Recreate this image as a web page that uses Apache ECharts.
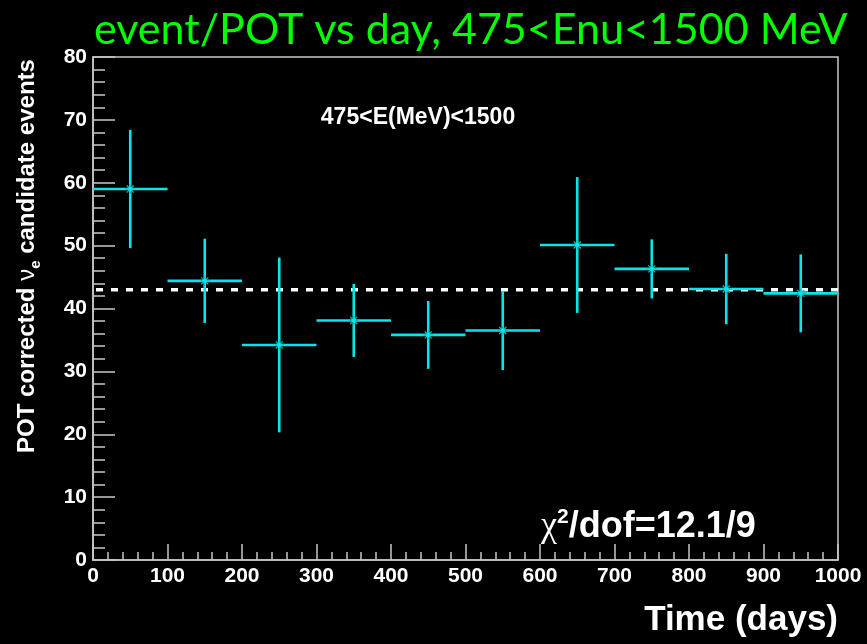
<!DOCTYPE html>
<html>
<head>
<meta charset="utf-8">
<style>
  html, body { margin: 0; padding: 0; background: #000; }
  #chart { width: 867px; height: 644px; }
</style>
<script src="https://cdn.jsdelivr.net/npm/echarts@6/dist/echarts.min.js"></script>
</head>
<body>
<div id="chart"></div>
<script>
// Bin centres (days), bin half-width, POT-corrected candidate rates and their errors
const days = [50, 150, 250, 350, 450, 550, 650, 750, 850, 950];
const binHalfWidth = [50, 50, 50, 50, 50, 50, 50, 50, 50, 50];
const rate = [59.0, 44.4, 34.2, 38.1, 35.8, 36.5, 50.1, 46.3, 43.1, 42.4];
const rateErr = [9.4, 6.7, 13.9, 5.8, 5.4, 6.3, 10.8, 4.7, 5.6, 6.2];
// Flat fit over the full range
const fitLevel = 43.0;
const fitRange = [0, 1000];
// Axis ranges
const xRange = [0, 1000, 100];
const yRange = [0, 80, 10];

const CYAN = '#00e8e8';
const AXIS = '#c8c8c8';
const SANS = 'Liberation Sans, Arial, Helvetica, sans-serif';

const points = days.map((d, i) => [d, rate[i], binHalfWidth[i], rateErr[i]]);

function renderPoint(params, api) {
  const x = api.value(0), y = api.value(1), dx = api.value(2), dy = api.value(3);
  const c = api.coord([x, y]);
  const l = api.coord([x - dx, y]);
  const r = api.coord([x + dx, y]);
  const t = api.coord([x, y + dy]);
  const b = api.coord([x, y - dy]);
  const bar = { stroke: CYAN, lineWidth: 2.6 };
  const star = { stroke: '#00c0c0', lineWidth: 1.2 };
  const s = 5;
  const children = [
    { type: 'line', shape: { x1: l[0], y1: l[1], x2: r[0], y2: r[1] }, style: bar },
    { type: 'line', shape: { x1: t[0], y1: t[1], x2: b[0], y2: b[1] }, style: bar }
  ];
  // asterisk marker
  for (let k = 0; k < 4; k++) {
    const a = k * Math.PI / 4;
    children.push({
      type: 'line',
      shape: { x1: c[0] - s * Math.cos(a), y1: c[1] - s * Math.sin(a), x2: c[0] + s * Math.cos(a), y2: c[1] + s * Math.sin(a) },
      style: star
    });
  }
  children.push({ type: 'circle', shape: { cx: c[0], cy: c[1], r: 2 }, style: { fill: CYAN } });
  return { type: 'group', children };
}

const chart = echarts.init(document.getElementById('chart'), null, { renderer: 'canvas' });

chart.setOption({
  backgroundColor: '#000',
  animation: false,
  grid: {
    left: 93, right: 29, top: 57, bottom: 84,
    show: true, borderColor: AXIS, borderWidth: 1.5, backgroundColor: 'transparent'
  },
  xAxis: {
    type: 'value', min: xRange[0], max: xRange[1], interval: xRange[2],
    axisLine: { show: true, onZero: false, lineStyle: { color: AXIS, width: 1.5 } },
    axisTick: { show: true, inside: true, length: 16, lineStyle: { color: AXIS, width: 1.5 } },
    minorTick: { show: true, splitNumber: 5, length: 8, lineStyle: { color: AXIS, width: 1.5 } },
    splitLine: { show: false },
    axisLabel: { color: '#fff', fontFamily: SANS, fontWeight: 'bold', fontSize: 21, margin: 6,
                 showMinLabel: true, showMaxLabel: true, formatter: v => String(v) }
  },
  yAxis: {
    type: 'value', min: yRange[0], max: yRange[1], interval: yRange[2],
    axisLine: { show: true, onZero: false, lineStyle: { color: AXIS, width: 1.5 } },
    axisTick: { show: true, inside: true, length: 22, lineStyle: { color: AXIS, width: 1.5 } },
    minorTick: { show: true, splitNumber: 5, length: 12, lineStyle: { color: AXIS, width: 1.5 } },
    splitLine: { show: false },
    axisLabel: { color: '#fff', fontFamily: SANS, fontWeight: 'bold', fontSize: 21, margin: 6,
                 formatter: v => String(v) }
  },
  series: [
    {
      type: 'line',
      data: [[fitRange[0], fitLevel], [fitRange[1], fitLevel]],
      symbol: 'none',
      lineStyle: { color: '#fff', width: 3.5, type: [7, 8], dashOffset: -3 },
      z: 1,
      silent: true
    },
    {
      type: 'custom',
      data: points,
      renderItem: renderPoint,
      encode: { x: 0, y: 1 },
      z: 3,
      silent: true
    }
  ],
  graphic: [
    {
      type: 'text', left: 94, top: 9,
      style: { text: 'event/POT vs day, 475<Enu<1500 MeV', fill: '#00ff00',
               font: '43px Lato, "Open Sans", sans-serif' }
    },
    {
      type: 'text', x: 27, y: 256, rotation: Math.PI / 2,
      style: {
        text: '{a|POT corrected }{n|ν}{s|e}{a| candidate events}',
        align: 'center', verticalAlign: 'middle',
        rich: {
          a: { fill: '#fff', fontFamily: SANS, fontWeight: 'bold', fontSize: 24, lineHeight: 32 },
          n: { fill: '#fff', fontFamily: SANS, fontWeight: 'normal', fontSize: 24, lineHeight: 32 },
          s: { fill: '#fff', fontFamily: SANS, fontWeight: 'bold', fontSize: 15, lineHeight: 15, verticalAlign: 'bottom' }
        }
      }
    },
    {
      type: 'text', x: 838, y: 620,
      style: { text: 'Time (days)', fill: '#fff', align: 'right', verticalAlign: 'middle',
               font: 'bold 35px ' + SANS }
    },
    {
      type: 'text', x: 418, y: 118,
      style: { text: '475<E(MeV)<1500', fill: '#fff', align: 'center', verticalAlign: 'middle',
               font: 'bold 23px ' + SANS }
    },
    {
      type: 'text', x: 541, y: 527,
      style: {
        text: '{c|χ}{p|2}{t|/dof=12.1/9}',
        align: 'left', verticalAlign: 'middle',
        rich: {
          c: { fill: '#fff', fontFamily: 'Liberation Serif, serif', fontSize: 36, lineHeight: 40 },
          p: { fill: '#fff', fontFamily: SANS, fontWeight: 'bold', fontSize: 21, lineHeight: 21, verticalAlign: 'top' },
          t: { fill: '#fff', fontFamily: SANS, fontWeight: 'bold', fontSize: 36, lineHeight: 40 }
        }
      }
    }
  ]
});
</script>
</body>
</html>
